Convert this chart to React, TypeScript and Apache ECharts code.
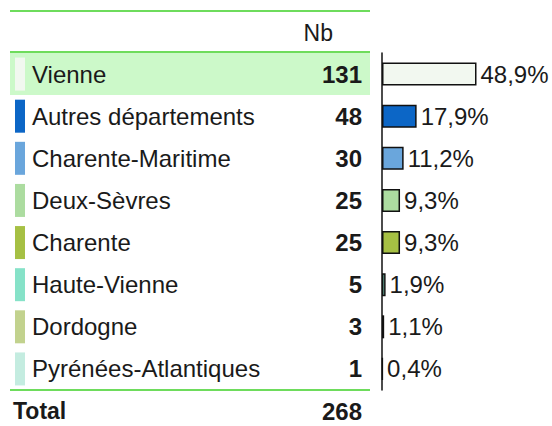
import React, { useEffect, useRef } from "react";
import * as echarts from "echarts";

const categories = [
  "Vienne",
  "Autres départements",
  "Charente-Maritime",
  "Deux-Sèvres",
  "Charente",
  "Haute-Vienne",
  "Dordogne",
  "Pyrénées-Atlantiques",
];
const counts = [131, 48, 30, 25, 25, 5, 3, 1];
const swatchColors = [
  "#f2f8f0",
  "#0c66c6",
  "#6aa6dc",
  "#acdca0",
  "#a6c044",
  "#86e2c8",
  "#c2d28e",
  "#c4ece0",
];
const headerLabel = "Nb";
const totalLabel = "Total";

const FONT = "'Liberation Sans', Arial, sans-serif";
const TEXT = "#1a1a1a";
const GREEN = "#6edc5c";

export default function App() {
  const ref = useRef<HTMLDivElement>(null);
  useEffect(() => {
    if (!ref.current) return;
    const chart = echarts.init(ref.current, null, { renderer: "svg" });
    const total = counts.reduce((a, b) => a + b, 0);
    const pcts = counts.map((c) => (c / total) * 100);
    const rich: any = {
      n: { fontSize: 24, fontFamily: FONT, color: TEXT, padding: [0, 0, 0, 7] },
    };
    swatchColors.forEach((c, i) => {
      rich["s" + i] = { width: 10, height: 33, backgroundColor: c };
    });
    chart.setOption({
      animation: false,
      textStyle: { fontFamily: FONT },
      grid: { left: 382, top: 53, width: 116, height: 337 },
      xAxis: {
        type: "value",
        min: 0,
        max: 60,
        show: false,
      },
      yAxis: [
        {
          type: "category",
          data: categories,
          inverse: true,
          position: "left",
          axisLine: { show: true, lineStyle: { color: "#111", width: 1.5 } },
          axisTick: { show: false },
          splitLine: { show: false },
          axisLabel: {
            align: "left",
            margin: 367,
            formatter: (v: string, i: number) => `{s${i}|}{n|${v}}`,
            rich,
          },
        },
        {
          type: "category",
          data: categories,
          inverse: true,
          position: "left",
          axisLine: { show: false },
          axisTick: { show: false },
          splitLine: { show: false },
          axisLabel: {
            margin: 20,
            fontSize: 24,
            fontWeight: "bold",
            fontFamily: FONT,
            color: TEXT,
            formatter: (_v: string, i: number) => String(counts[i]),
          },
        },
      ],
      series: [
        {
          type: "bar",
          yAxisIndex: 0,
          barWidth: 23,
          data: pcts.map((p, i) => ({
            value: p,
            itemStyle: { color: swatchColors[i] },
          })),
          itemStyle: { borderColor: "#111", borderWidth: 1.5 },
          label: {
            show: true,
            position: "right",
            distance: 4,
            fontSize: 24,
            fontFamily: FONT,
            color: TEXT,
            formatter: (p: any) => p.value.toFixed(1).replace(".", ",") + "%",
          },
        },
      ],
      graphic: [
        { type: "rect", z: -10, shape: { x: 10, y: 53, width: 360, height: 42 }, style: { fill: "#ccf9c9" } },
        { type: "line", shape: { x1: 10, y1: 11, x2: 370, y2: 11 }, style: { stroke: GREEN, lineWidth: 2 } },
        { type: "line", shape: { x1: 10, y1: 52, x2: 370, y2: 52 }, style: { stroke: GREEN, lineWidth: 2 } },
        { type: "line", shape: { x1: 10, y1: 390, x2: 370, y2: 390 }, style: { stroke: GREEN, lineWidth: 2 } },
        {
          type: "text",
          x: 333,
          y: 33,
          style: { text: headerLabel, fontSize: 23, fontFamily: FONT, fill: TEXT, align: "right", verticalAlign: "middle" },
        },
        {
          type: "text",
          x: 13,
          y: 411,
          style: { text: totalLabel, fontSize: 23, fontWeight: "bold", fontFamily: FONT, fill: TEXT, align: "left", verticalAlign: "middle" },
        },
        {
          type: "text",
          x: 362,
          y: 411,
          style: { text: String(total), fontSize: 24, fontWeight: "bold", fontFamily: FONT, fill: TEXT, align: "right", verticalAlign: "middle" },
        },
      ],
    });
    return () => chart.dispose();
  }, []);
  return (
    <div
      ref={ref}
      style={{ position: "fixed", left: 0, top: 0, width: 552, height: 426, background: "#fff" }}
    />
  );
}
